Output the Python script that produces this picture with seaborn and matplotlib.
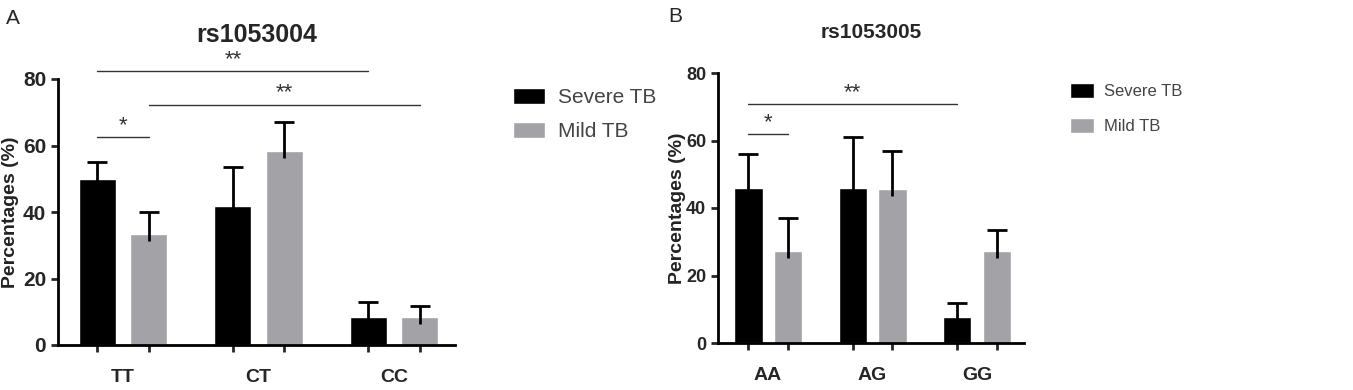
import numpy as np
import pandas as pd
import matplotlib
matplotlib.use('Agg')
import matplotlib.pyplot as plt
import seaborn as sns

# --- data ---
groups = ['Severe TB', 'Mild TB']

genos_a = ['TT', 'CT', 'CC']
severe_a = [50.0, 41.7, 8.4]
severe_a_err = [5.0, 11.8, 4.6]
mild_a = [33.3, 58.3, 8.4]
mild_a_err = [6.7, 8.7, 3.3]

genos_b = ['AA', 'AG', 'GG']
severe_b = [46.0, 46.0, 7.7]
severe_b_err = [10.0, 15.0, 4.1]
mild_b = [27.3, 45.6, 27.3]
mild_b_err = [9.7, 11.4, 6.2]

# significance brackets: (hue, category) start, (hue, category) end, height, label
sig_a = [((0, 0), (0, 2), 82.3, '**'),
         ((1, 0), (1, 2), 72.3, '**'),
         ((0, 0), (1, 0), 62.5, '*')]
sig_b = [((0, 0), (0, 2), 70.8, '**'),
         ((0, 0), (1, 0), 62.0, '*')]

palette = {'Severe TB': '#000000', 'Mild TB': '#a2a2a7'}

sns.set_style('ticks')
plt.rcParams['font.family'] = ['Liberation Sans', 'DejaVu Sans']


def make_df(genos, sev, mild):
    return pd.DataFrame({
        'genotype': genos * 2,
        'group': [groups[0]] * len(genos) + [groups[1]] * len(genos),
        'pct': list(sev) + list(mild),
    })


def panel(ax, genos, sev, sev_err, mild, mild_err, sigs, title, tsize, tpad,
          ysize, ypad, ytick_font, xtick_font, leg_anchor, leg_font, leg_hl,
          leg_hh, leg_sp):
    df = make_df(genos, sev, mild)
    sns.barplot(data=df, x='genotype', y='pct', hue='group', hue_order=groups,
                palette=palette, width=0.756, gap=0.28, saturation=1,
                errorbar=None, ax=ax)
    errs = [sev_err, mild_err]
    centers = []
    for h, cont in enumerate(ax.containers):
        xs = np.array([p.get_x() + p.get_width() / 2 for p in cont.patches])
        ys = np.array([p.get_height() for p in cont.patches])
        e = np.array(errs[h])
        centers.append(xs)
        ax.vlines(xs, ys - 2, ys + e, color='black', lw=2, zorder=4)
        ax.plot(xs, ys + e, ls='none', marker='_', ms=14, mew=2,
                color='black', zorder=4)
    for (h1, c1), (h2, c2), y, lab in sigs:
        x1, x2 = centers[h1][c1], centers[h2][c2]
        ax.plot([x1, x2], [y, y], color='#333333', lw=1, clip_on=False)
        ax.text((x1 + x2) / 2, y + 0.3, lab, ha='center', va='bottom',
                fontsize=16, color='#333333', clip_on=False)

    ax.set_ylim(0, 80)
    ax.set_yticks([0, 20, 40, 60, 80])
    ax.set_xlim(-0.48, 2.45)
    ax.set_xlabel('')
    ax.set_ylabel('Percentages (%)', fontsize=ysize, fontweight='bold',
                  labelpad=ypad, color='#222222')
    ax.set_title(title, fontsize=tsize, fontweight='bold', pad=tpad)
    ax.set_xticks(np.arange(len(genos)))
    ax.set_xticklabels(genos, fontsize=xtick_font, fontweight='bold')
    ax.set_xticks(np.concatenate(centers), minor=True)
    ax.tick_params(axis='x', which='major', length=0, pad=17)
    ax.tick_params(axis='x', which='minor', length=5, width=2, direction='out')
    ax.tick_params(axis='y', length=5, width=2, labelsize=ytick_font)
    for t in ax.get_yticklabels():
        t.set_fontweight('bold')
    sns.despine(ax=ax)
    for s in ['left', 'bottom']:
        ax.spines[s].set_linewidth(2)
        ax.spines[s].set_color('black')
    sns.move_legend(ax, 'upper left', bbox_to_anchor=leg_anchor,
                    bbox_transform=ax.figure.transFigure, frameon=False,
                    title=None, fontsize=leg_font, borderpad=0,
                    borderaxespad=0, handlelength=leg_hl, handleheight=leg_hh,
                    labelspacing=leg_sp, handletextpad=0.6,
                    labelcolor='#444444')


fig = plt.figure(figsize=(13.53, 3.9), dpi=100)
ax_a = fig.add_axes([58 / 1353, 45 / 390, 397 / 1353, 266 / 390])
ax_b = fig.add_axes([718 / 1353, 47 / 390, 306 / 1353, 270 / 390])

panel(ax_a, genos_a, severe_a, severe_a_err, mild_a, mild_a_err, sig_a,
      'rs1053004', 18, 27, 14, 3, 15, 14,
      (513 / 1353, 1 - 88 / 390), 15, 1.55, 0.82, 0.7)
panel(ax_b, genos_b, severe_b, severe_b_err, mild_b, mild_b_err, sig_b,
      'rs1053005', 15, 25, 14, 0, 13, 14,
      (1070 / 1353, 1 - 83 / 390), 12, 1.45, 1.05, 1.1)

fig.text(6 / 1353, 1 - 19 / 390, 'A', fontsize=15, va='center', ha='left')
fig.text(668 / 1353, 1 - 17 / 390, 'B', fontsize=15, va='center', ha='left')

fig.savefig('out.png', dpi=100)
